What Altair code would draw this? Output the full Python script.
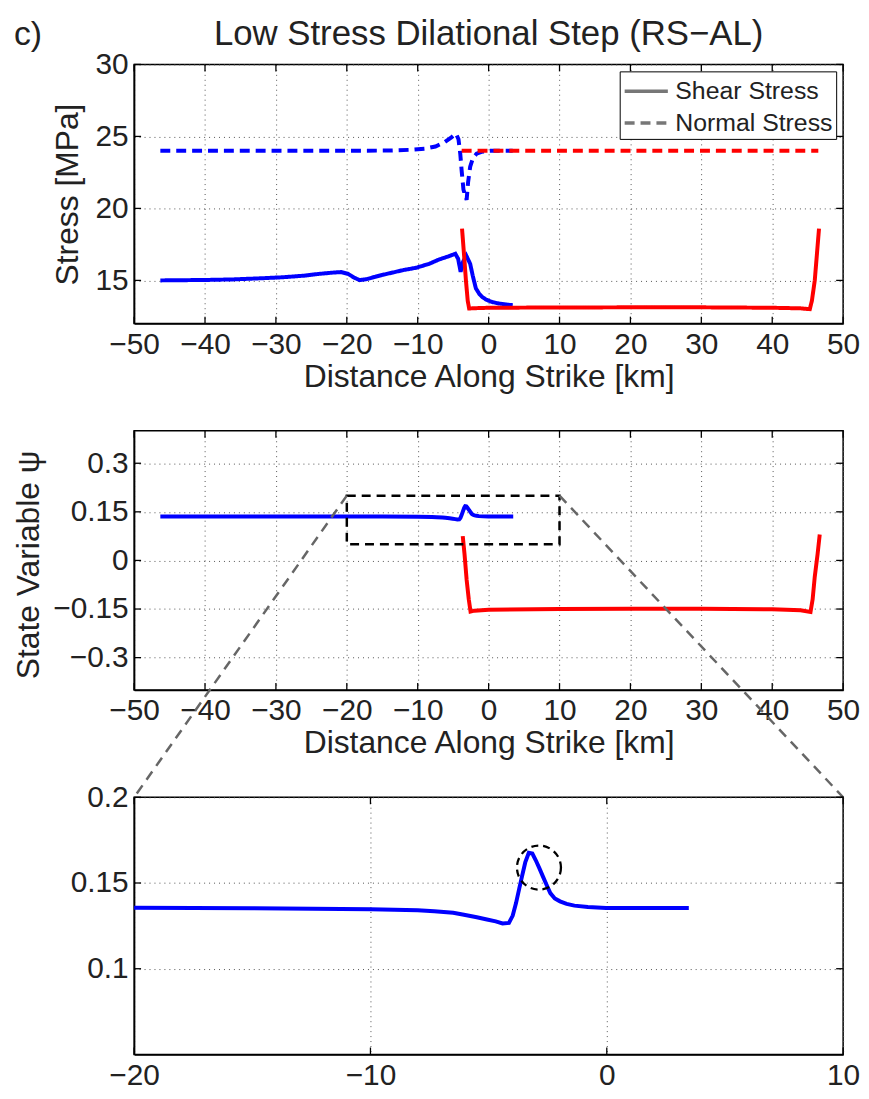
import altair as alt
import pandas as pd

# ---------------- data ----------------
# Panel 1: stress profiles (left segment = blue, right segment = red)
shear_left_x = [-46.3, -40, -36, -32, -29, -26, -24, -22, -20.8, -19.8, -19.0, -18.2, -17.3, -16, -15,
                -13.5, -12, -10.2, -8.4, -7.0, -5.6, -4.7, -4.3, -3.95, -3.6, -3.15, -2.6, -2.25, -1.8,
                -1.3, -0.9, -0.3, 0.5, 1.4, 2.4, 3.4]
shear_left_y = [15.0, 15.03, 15.07, 15.15, 15.22, 15.33, 15.45, 15.54, 15.58, 15.45, 15.2, 15.02, 15.08,
                15.25, 15.38, 15.55, 15.72, 15.88, 16.15, 16.45, 16.68, 16.85, 16.5, 15.6, 16.3, 16.72,
                16.15, 15.35, 14.45, 14.05, 13.85, 13.65, 13.5, 13.4, 13.33, 13.28]
normal_left_x = [-46.3, -40, -30, -20, -14, -11, -9, -7.5, -6.2, -5.2, -4.6, -4.25, -4.0, -3.8, -3.55,
                 -3.3, -3.1, -2.9, -2.6, -2.2, -1.7, -1.0, 0, 1.5, 3.4]
normal_left_y = [24.0, 24.0, 24.0, 24.0, 24.02, 24.07, 24.15, 24.3, 24.6, 24.95, 25.2, 24.8, 23.8, 22.6,
                 21.3, 20.9, 20.6, 21.8, 22.9, 23.5, 23.8, 23.93, 24.0, 24.0, 24.0]
shear_right_x = [-3.75, -3.5, -3.2, -2.95, -2.75, -2.0, 0, 10, 20, 30, 40, 44, 45.3, 45.6, 46.0, 46.3, 46.6]
shear_right_y = [18.6, 17.0, 15.0, 13.6, 13.05, 13.07, 13.1, 13.12, 13.13, 13.13, 13.1, 13.06, 13.0,
                 13.6, 15.0, 16.8, 18.6]
normal_right_x = [-3.8, 0, 10, 20, 30, 40, 46.5]
normal_right_y = [24.0, 24.0, 24.0, 24.0, 24.0, 24.0, 24.0]

# Panel 2 / 3: state variable psi
psi_left_x = [-46.3, -40, -30, -20, -15, -10, -8, -7.3, -6.5, -6.1, -5.5, -5.07, -4.7, -4.41, -4.14,
              -3.98, -3.84, -3.7, -3.59, -3.45, -3.30, -3.15, -3.01, -2.85, -2.70, -2.55, -2.39, -2.2,
              -1.98, -1.7, -1.37, -0.8, -0.03, 1.5, 3.47]
psi_left_y = [0.1355, 0.1356, 0.1356, 0.1356, 0.1353, 0.1347, 0.1341, 0.1335, 0.1326, 0.1316, 0.1300,
              0.1287, 0.1276, 0.1264, 0.1267, 0.1310, 0.1383, 0.1470, 0.1537, 0.1620, 0.1676, 0.1672,
              0.1634, 0.1585, 0.1537, 0.1490, 0.1441, 0.1410, 0.1393, 0.1378, 0.1368, 0.1360, 0.1354,
              0.1354, 0.1354]
psi_right_x = [-3.65, -3.4, -3.1, -2.8, -2.55, -2.0, 0, 10, 20, 30, 40, 44, 45.4, 45.7, 46.0, 46.4, 46.7]
psi_right_y = [0.075, 0.02, -0.06, -0.12, -0.158, -0.155, -0.152, -0.150, -0.149, -0.149, -0.151,
               -0.154, -0.159, -0.12, -0.05, 0.02, 0.08]

# zoom window and highlighted peak
zoom_x = [-20, 10]
zoom_y = [0.05, 0.2]
circle_x = [-2.87]
circle_y = [0.159]

# axes
x_ticks_full = [-50, -40, -30, -20, -10, 0, 10, 20, 30, 40, 50]
x_domain_full = [-50, 50]
stress_ticks = [15, 20, 25, 30]
stress_domain = [12, 30]
psi_ticks = [-0.3, -0.15, 0, 0.15, 0.3]
psi_domain = [-0.4, 0.4]
zoom_x_ticks = [-20, -10, 0, 10]
zoom_y_ticks = [0.1, 0.15, 0.2]

legend_labels = ["Shear Stress", "Normal Stress"]
sides = ["left", "right"]
side_colors = ["#0000ff", "#ff0000"]
title_text = "Low Stress Dilational Step (RS\u2212AL)"
panel_tag = "c)"
x_title = "Distance Along Strike [km]"

# ---------------- layout ----------------
FONT = "Liberation Sans"
TXT = "#222222"
W = 714
H1, H2, H3 = 261, 261, 259
GAP = 108
TICK = 7


def series(xs, ys, side, kind):
    assert len(xs) == len(ys)
    return pd.DataFrame({"x": xs, "y": ys, "side": side, "kind": kind,
                         "series": side + "-" + kind, "i": range(len(xs))})


def inner_ticks(xvals, yvals, xenc, yenc, h):
    """Matlab-style ticks pointing into the plot box on all four sides."""
    dx = pd.DataFrame({"x": xvals})
    dy = pd.DataFrame({"y": yvals})
    kw = dict(size=TICK, thickness=1.3, color="black", opacity=1)
    return [
        alt.Chart(dx).mark_tick(orient="vertical", **kw).encode(x=xenc, y=alt.value(h - TICK / 2)),
        alt.Chart(dx).mark_tick(orient="vertical", **kw).encode(x=xenc, y=alt.value(TICK / 2)),
        alt.Chart(dy).mark_tick(orient="horizontal", **kw).encode(y=yenc, x=alt.value(TICK / 2)),
        alt.Chart(dy).mark_tick(orient="horizontal", **kw).encode(y=yenc, x=alt.value(W - TICK / 2)),
    ]


stress_df = pd.concat([
    series(shear_left_x, shear_left_y, "left", legend_labels[0]),
    series(normal_left_x, normal_left_y, "left", legend_labels[1]),
    series(shear_right_x, shear_right_y, "right", legend_labels[0]),
    series(normal_right_x, normal_right_y, "right", legend_labels[1]),
])
psi_df = pd.concat([
    series(psi_left_x, psi_left_y, "left", "psi"),
    series(psi_right_x, psi_right_y, "right", "psi"),
])
psi_zoom_df = series(psi_left_x, psi_left_y, "left", "psi")

side_scale = alt.Scale(domain=sides, range=side_colors)
dash_scale = alt.Scale(domain=legend_labels, range=[[1, 0], [10, 6]])

# ---------- panel 1 ----------
x1 = alt.X("x:Q", scale=alt.Scale(domain=x_domain_full, nice=False, zero=False),
           axis=alt.Axis(values=x_ticks_full, title=x_title))
y1 = alt.Y("y:Q", scale=alt.Scale(domain=stress_domain, nice=False, zero=False),
           axis=alt.Axis(values=stress_ticks, title="Stress [MPa]", titleX=-50, titleY=H1 / 2))

stress_lines = alt.Chart(stress_df).mark_line(strokeWidth=4, clip=True).encode(
    x=x1, y=y1,
    color=alt.Color("side:N", scale=side_scale, legend=None),
    strokeDash=alt.StrokeDash("kind:N", scale=dash_scale, legend=alt.Legend(
        orient="top-right", offset=7, title=None, labelFont=FONT, labelFontSize=25, labelColor=TXT,
        fillColor="white", strokeColor="black", padding=3, rowPadding=2, labelOffset=19,
        symbolType="M-1,0H1.9", symbolSize=900, symbolStrokeWidth=3.5,
        symbolStrokeColor="#777777")),
    detail="series:N", order="i:Q")

tag = alt.Chart(pd.DataFrame({"t": [panel_tag]})).mark_text(
    align="left", baseline="middle", font=FONT, fontSize=34, color=TXT).encode(
    text="t:N", x=alt.value(-121), y=alt.value(-30))
head = alt.Chart(pd.DataFrame({"t": [title_text]})).mark_text(
    align="center", baseline="middle", font=FONT, fontSize=35, color=TXT).encode(
    text="t:N", x=alt.value(W / 2), y=alt.value(-31))

p1 = alt.layer(stress_lines, *inner_ticks(x_ticks_full, stress_ticks, x1, y1, H1),
               tag, head).properties(width=W, height=H1)

# ---------- panel 2 ----------
x2 = alt.X("x:Q", scale=alt.Scale(domain=x_domain_full, nice=False, zero=False),
           axis=alt.Axis(values=x_ticks_full, title=x_title))
y2 = alt.Y("y:Q", scale=alt.Scale(domain=psi_domain, nice=False, zero=False),
           axis=alt.Axis(values=psi_ticks, format=".2~f", title="State Variable \u03c8",
                         titleX=-89, titleY=H2 / 2 + 4))

psi_lines = alt.Chart(psi_df).mark_line(strokeWidth=4, clip=True).encode(
    x=x2, y=y2, color=alt.Color("side:N", scale=side_scale, legend=None),
    detail="series:N", order="i:Q")

box_df = pd.DataFrame({"x": [zoom_x[0]], "x2": [zoom_x[1]], "y": [zoom_y[0]], "y2": [zoom_y[1]]})
box = alt.Chart(box_df).mark_rect(fill="transparent", stroke="black", strokeDash=[9, 6],
                                  strokeWidth=2.5).encode(x=x2, x2="x2:Q", y=y2, y2="y2:Q")

# connectors: box top corners -> top corners of the zoom panel (expressed in panel-2 units)
y_zoom_top = psi_domain[0] - GAP / H2 * (psi_domain[1] - psi_domain[0])
conn_df = pd.DataFrame({
    "x": [zoom_x[0], x_domain_full[0], zoom_x[1], x_domain_full[1]],
    "y": [zoom_y[1], y_zoom_top, zoom_y[1], y_zoom_top],
    "g": ["l", "l", "r", "r"], "i": [0, 1, 0, 1]})
conn = alt.Chart(conn_df).mark_line(clip=False, color="#666666", strokeDash=[10, 7],
                                    strokeWidth=2.5).encode(x=x2, y=y2, detail="g:N", order="i:Q")

p2 = alt.layer(psi_lines, *inner_ticks(x_ticks_full, psi_ticks, x2, y2, H2),
               box, conn).properties(width=W, height=H2)

# ---------- panel 3 ----------
x3 = alt.X("x:Q", scale=alt.Scale(domain=zoom_x, nice=False, zero=False),
           axis=alt.Axis(values=zoom_x_ticks, title=None))
y3 = alt.Y("y:Q", scale=alt.Scale(domain=zoom_y, nice=False, zero=False),
           axis=alt.Axis(values=zoom_y_ticks, format=".2~f", title=None))

zoom_line = alt.Chart(psi_zoom_df).mark_line(strokeWidth=4, clip=True, color=side_colors[0]).encode(
    x=x3, y=y3, order="i:Q")
circle = alt.Chart(pd.DataFrame({"x": circle_x, "y": circle_y})).mark_point(
    shape="circle", size=1963, filled=False, stroke="black", strokeWidth=2.3,
    strokeDash=[7, 5], opacity=1).encode(x=x3, y=y3)

p3 = alt.layer(zoom_line, *inner_ticks(zoom_x_ticks, zoom_y_ticks, x3, y3, H3),
               circle).properties(width=W, height=H3)

chart = alt.vconcat(p1, p2, p3, spacing=GAP, bounds="flush").resolve_scale(
    x="independent", y="independent"
).properties(
    padding={"left": 4, "top": 4, "right": 0, "bottom": 0}
).configure_view(
    stroke="black", strokeWidth=1.5
).configure_axis(
    labelFont=FONT, labelFontSize=30, labelColor=TXT, labelPadding=6,
    labelFlush=False, labelOverlap=False,
    titleFont=FONT, titleFontSize=32, titleFontWeight="normal", titleColor=TXT, titlePadding=2,
    domainColor="black", domainWidth=1.5, tickSize=0,
    grid=True, gridColor="#555555", gridDash=[1, 4], gridWidth=1
)

chart.save("out.html", embed_options={"renderer": "svg", "actions": False})
